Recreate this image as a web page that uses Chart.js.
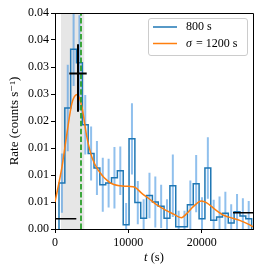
<!DOCTYPE html>
<html>
<head>
<meta charset="utf-8">
<script src="https://cdn.jsdelivr.net/npm/chart.js@4.4.0/dist/chart.umd.min.js"></script>
<style>
html, body { margin: 0; padding: 0; background: #fff; }
#wrap { width: 266px; height: 273px; }
</style>
</head>
<body>
<div id="wrap"><canvas id="lc" width="266" height="273"></canvas></div>
<script>
// binned light curve (800 s bins)
var binStart = 545;
var binWidth = 796;
var binRates = [0.0085, 0.0224, 0.0333, 0.0308, 0.0193, 0.0140, 0.0113, 0.0082, 0.0085, 0.0095,
	0.0108, 0.0008, 0.0167, 0.0049, 0.0020, 0.0062, 0.0050, 0.0042, 0.0020, 0.0080,
	0.0004, 0.0004, 0.0045, 0.0084, 0.0019, 0.0113, 0.0016, 0.0022, 0.0029, 0.0011,
	0.0032, 0.0024, 0.0019];
var binErrors = [0.0055, 0.0080, 0.0068, 0.0088, 0.0055, 0.0050, 0.0050, 0.0050, 0.0045, 0.0057,
	0.0045, 0.0040, 0.0066, 0.0040, 0.0035, 0.0042, 0.0047, 0.0040, 0.0035, 0.0058,
	0.0030, 0.0030, 0.0045, 0.0053, 0.0040, 0.0057, 0.0038, 0.0038, 0.0040, 0.0035,
	0.0033, 0.0033, 0.0033];

// smoothed rate, sigma = 1200 s
var smoothT = [0, 950, 1630, 2310, 3030, 3670, 4350, 5030, 5940, 7480, 8840, 10030, 10930, 11840, 12750,
	13650, 14560, 15200, 16100, 17240, 17920, 18820, 19960, 20640, 21950, 23090, 24220, 25350, 26490, 27000];
var smoothRate = [0.0050, 0.0115, 0.0177, 0.0233, 0.0249, 0.0226, 0.0170, 0.0133, 0.0108, 0.0086,
	0.0080, 0.0079, 0.0077, 0.0066, 0.0057, 0.0047, 0.0039, 0.0034, 0.0028, 0.0021,
	0.0028, 0.0041, 0.0052, 0.0049, 0.0035, 0.0025, 0.0020, 0.0015, 0.0008, 0.0004];

// peak estimate and levels before / after
var peakT = [1950, 3136, 4323];
var peakRate = [0.0217, 0.0288, 0.0342];
var preT = [95, 2905];
var preRate = 0.0019;
var postT = [24274, 27000];
var postRate = 0.0030;
var windowT = [818, 4023];
var triggerT = 3546;

var xTicks = [0, 10000, 20000];
var yTicks = [0, 0.005, 0.010, 0.015, 0.020, 0.025, 0.030, 0.035, 0.040];
var yTickLabels = ["0.00", "0.01", "0.01", "0.01", "0.02", "0.03", "0.03", "0.04", "0.04"];

var serif = "'Liberation Serif', 'DejaVu Serif', serif";

var histPts = [{x: binStart, y: 0}];
for (var i = 0; i < binRates.length; i++) {
	histPts.push({x: binStart + i * binWidth, y: binRates[i]});
}
var binEnd = binStart + binRates.length * binWidth;
histPts.push({x: binEnd, y: binRates[binRates.length - 1]});
histPts.push({x: binEnd, y: 0});

var errPts = [];
for (var i = 0; i < binRates.length; i++) {
	var c = binStart + (i + 0.5) * binWidth;
	errPts.push({x: c, y: binRates[i] - binErrors[i]});
	errPts.push({x: c, y: binRates[i] + binErrors[i]});
	errPts.push({x: c, y: null});
}

var smoothPts = [];
for (var i = 0; i < smoothT.length; i++) {
	smoothPts.push({x: smoothT[i], y: smoothRate[i]});
}

var crossPts = [
	{x: peakT[0], y: peakRate[1]}, {x: peakT[2], y: peakRate[1]}, {x: peakT[1], y: null},
	{x: peakT[1], y: peakRate[0]}, {x: peakT[1], y: peakRate[2]}
];
var levelPts = [
	{x: preT[0], y: preRate}, {x: preT[1], y: preRate}, {x: preT[1], y: null},
	{x: postT[0], y: postRate}, {x: postT[1], y: postRate}
];

var framePlugin = {
	id: "frame",
	afterDatasetsDraw: function(chart) {
		var a = chart.chartArea, ctx = chart.ctx;
		ctx.save();
		ctx.strokeStyle = "#000";
		ctx.lineWidth = 1;
		ctx.beginPath();
		ctx.moveTo(a.left, a.top + 0.5);
		ctx.lineTo(a.right + 0.5, a.top + 0.5);
		ctx.lineTo(a.right + 0.5, a.bottom);
		ctx.stroke();
		ctx.restore();
	}
};

var legendPlugin = {
	id: "boxLegend",
	afterDraw: function(chart) {
		var ctx = chart.ctx;
		var x0 = 148, y0 = 18, w = 99, h = 37;
		ctx.save();
		ctx.fillStyle = "rgba(255,255,255,0.8)";
		ctx.strokeStyle = "#cccccc";
		ctx.lineWidth = 1;
		ctx.beginPath();
		ctx.roundRect(x0 + 0.5, y0 + 0.5, w, h, 2.5);
		ctx.fill();
		ctx.stroke();
		var rows = [{color: "#1f77b4", y: 27}, {color: "#ff7f0e", y: 43.5}];
		for (var r = 0; r < rows.length; r++) {
			ctx.strokeStyle = rows[r].color;
			ctx.lineWidth = 1.5;
			ctx.beginPath();
			ctx.moveTo(153, rows[r].y);
			ctx.lineTo(177, rows[r].y);
			ctx.stroke();
		}
		ctx.fillStyle = "#000";
		ctx.textBaseline = "middle";
		ctx.font = "12px " + serif;
		ctx.fillText(chart.data.datasets[2].label, 186, 27);
		ctx.font = "italic 12px " + serif;
		ctx.fillText("σ", 186, 44);
		var sw = ctx.measureText("σ").width;
		ctx.font = "12px " + serif;
		ctx.fillText(" = 1200 s", 186 + sw + 1, 44);
		ctx.restore();
	}
};

var xTitlePlugin = {
	id: "xTitle",
	afterDraw: function(chart) {
		var ctx = chart.ctx, a = chart.chartArea;
		ctx.save();
		ctx.fillStyle = "#000";
		ctx.textBaseline = "middle";
		ctx.font = "italic 12.5px " + serif;
		var w1 = ctx.measureText("t").width;
		ctx.font = "12.5px " + serif;
		var w2 = ctx.measureText(" (s)").width;
		var sx = (a.left + a.right) / 2 - (w1 + w2) / 2;
		ctx.font = "italic 12.5px " + serif;
		ctx.fillText("t", sx, 258);
		ctx.font = "12.5px " + serif;
		ctx.fillText(" (s)", sx + w1, 258);
		ctx.restore();
	}
};

new Chart(document.getElementById("lc"), {
	type: "line",
	data: {
		datasets: [
			{label: "window", data: [{x: windowT[0], y: 0.04}, {x: windowT[1], y: 0.04}],
				fill: "origin", backgroundColor: "rgba(128,128,128,0.2)", borderWidth: 0, pointRadius: 0, order: 10},
			{label: "errors", data: errPts, borderColor: "rgba(70,150,225,0.6)", borderWidth: 2,
				pointRadius: 0, spanGaps: false, order: 9},
			{label: "800 s", data: histPts, stepped: true, borderColor: "#1f77b4", borderWidth: 1.5,
				pointRadius: 0, order: 8},
			{label: "σ = 1200 s", data: smoothPts, borderColor: "#ff7f0e", borderWidth: 1.5,
				cubicInterpolationMode: "monotone", pointRadius: 0, order: 7},
			{label: "trigger", data: [{x: triggerT, y: 0}, {x: triggerT, y: 0.04}], borderColor: "#2ca02c",
				borderWidth: 1.8, borderDash: [5.5, 2.4], pointRadius: 0, order: 6},
			{label: "peak", data: crossPts, borderColor: "#000", borderWidth: 2, pointRadius: 0, spanGaps: false, order: 5},
			{label: "levels", data: levelPts, borderColor: "#000", borderWidth: 1.5, pointRadius: 0, spanGaps: false, order: 5}
		]
	},
	options: {
		responsive: false,
		animation: false,
		devicePixelRatio: 1,
		layout: {padding: {top: 13, right: 13, left: 0, bottom: 0}},
		plugins: {legend: {display: false}, tooltip: {enabled: false}},
		scales: {
			x: {
				type: "linear", min: 0, max: 27000,
				afterBuildTicks: function(s) { s.ticks = xTicks.map(function(v) { return {value: v}; }); },
				afterFit: function(s) { s.height = 44; },
				ticks: {color: "#000", font: {family: serif, size: 12}, padding: 3, maxRotation: 0,
					callback: function(v) { return String(v); }},
				grid: {drawOnChartArea: false, drawTicks: true, tickLength: 4, color: "#000"},
				border: {color: "#000", width: 1}
			},
			y: {
				min: 0, max: 0.04,
				afterBuildTicks: function(s) { s.ticks = yTicks.map(function(v) { return {value: v}; }); },
				afterFit: function(s) { s.width = 55; },
				ticks: {color: "#000", font: {family: serif, size: 12}, padding: 2,
					callback: function(v, idx) { return yTickLabels[idx]; }},
				grid: {drawOnChartArea: false, drawTicks: true, tickLength: 4, color: "#000"},
				border: {color: "#000", width: 1},
				title: {display: true, text: "Rate (counts s⁻¹)", color: "#000",
					font: {family: serif, size: 13}, padding: {top: 7, bottom: 0}}
			}
		}
	},
	plugins: [framePlugin, legendPlugin, xTitlePlugin]
});
</script>
</body>
</html>
